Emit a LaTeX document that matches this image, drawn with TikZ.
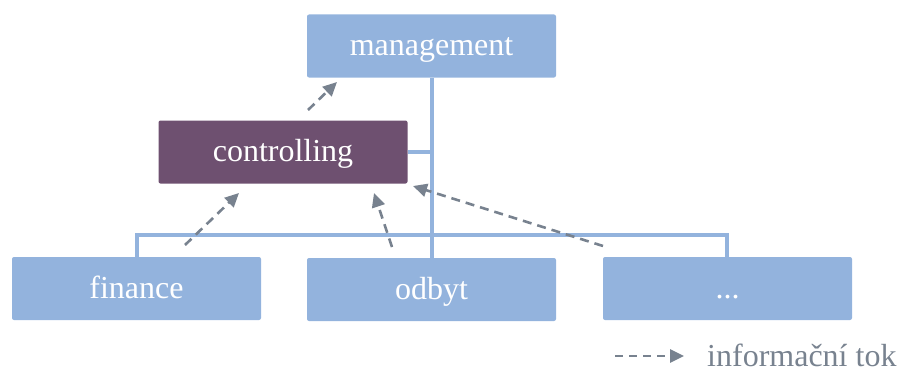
\documentclass[tikz,border=0pt]{standalone}
\usepackage{fontspec}
\setmainfont{Liberation Serif}
\usetikzlibrary{arrows.meta}
\definecolor{boxblue}{HTML}{93B3DD}
\definecolor{boxplum}{HTML}{6E5070}
\definecolor{flowgray}{HTML}{78828F}
\begin{document}
\begin{tikzpicture}[x=1pt,y=-1pt,
  unit/.style={fill=boxblue,rounded corners=2pt,minimum width=249pt,minimum height=63pt,
    text=white,font=\fontsize{32}{35}\selectfont,inner sep=0pt,
    text height=22pt,text depth=3pt},
  tie/.style={draw=boxblue,line width=4pt},
  flow/.style={draw=flowgray,line width=2.6pt,dash pattern=on 9pt off 6pt,
    -{Triangle[length=14pt,width=13pt]}}]
\useasboundingbox (0,0) rectangle (901,369);
% boxes
\node[unit] (mgmt) at (431.5,46) {management};
\node[unit,fill=boxplum] (ctrl) at (283,152) {controlling};
\node[unit] (fin) at (136.5,288.5) {finance};
\node[unit] (odb) at (431.5,289.5) {odbyt};
\node[unit] (etc) at (727.5,288.5) {...};
% organisational lines
\coordinate (bl) at (137,235);
\coordinate (br) at (727,235);
\draw[tie] (mgmt.south) -- (odb.north);
\draw[tie] (ctrl.east) -- (mgmt.south |- ctrl.east);
\draw[tie] (fin.north -| bl) -- (bl) -- (br) -- (etc.north -| br);
% information flows
\coordinate (c1) at (308,110); \coordinate (m1) at (337,82);
\coordinate (f1) at (185,245); \coordinate (c2) at (239,193);
\coordinate (o1) at (392,247); \coordinate (c3) at (374,193);
\coordinate (e1) at (603,246); \coordinate (c4) at (413,186);
\draw[flow] (c1) -- (m1);
\draw[flow] (f1) -- (c2);
\draw[flow] (o1) -- (c3);
\draw[flow] (e1) -- (c4);
% legend
\coordinate (lg1) at (615,356); \coordinate (lg2) at (684,356);
\draw[flow,dash pattern=on 8pt off 6pt] (lg1) -- (lg2);
\node[anchor=base west,text=flowgray,font=\fontsize{32}{35}\selectfont,inner sep=0pt] (lgt) at (707,366) {informační tok};
\end{tikzpicture}
\end{document}
